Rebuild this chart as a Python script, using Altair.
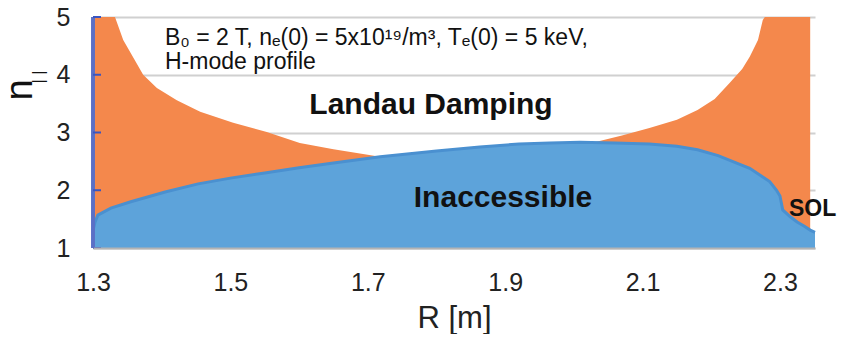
import altair as alt
import pandas as pd

# Landau damping boundary (orange region lies below this curve)
orange_R = [1.300, 1.332, 1.344, 1.358, 1.373, 1.393, 1.422, 1.456, 1.504, 1.553,
            1.601, 1.650, 1.718, 1.800, 1.900, 2.000, 2.033, 2.070, 2.110, 2.150,
            2.180, 2.205, 2.227, 2.245, 2.256, 2.268, 2.275, 2.278, 2.344]
orange_n = [5.00, 5.00, 4.60, 4.31, 4.00, 3.77, 3.56, 3.36, 3.17, 3.01,
            2.82, 2.71, 2.58, 2.48, 2.50, 2.70, 2.84, 2.95, 3.08, 3.22,
            3.39, 3.58, 3.86, 4.10, 4.31, 4.60, 4.95, 5.00, 5.00]

# Accessibility boundary (inaccessible region lies below this curve)
blue_R = [1.300, 1.303, 1.307, 1.326, 1.355, 1.405, 1.453, 1.500, 1.550, 1.600,
          1.650, 1.718, 1.800, 1.863, 1.920, 1.965, 2.009, 2.060, 2.110, 2.150,
          2.180, 2.210, 2.237, 2.256, 2.275, 2.285, 2.295, 2.300, 2.304, 2.315,
          2.325, 2.335, 2.344, 2.351]
blue_n = [1.30, 1.45, 1.57, 1.69, 1.80, 1.97, 2.11, 2.21, 2.30, 2.39,
          2.47, 2.58, 2.68, 2.75, 2.80, 2.82, 2.83, 2.82, 2.80, 2.76,
          2.70, 2.60, 2.47, 2.38, 2.23, 2.15, 2.00, 1.90, 1.66, 1.54,
          1.45, 1.38, 1.31, 1.27]

x_ticks = [1.3, 1.5, 1.7, 1.9, 2.1, 2.3]
y_ticks = [1, 2, 3, 4, 5]

W, H = 722, 231
FONT = "Liberation Sans"

orange_df = pd.DataFrame({"R": orange_R, "n": orange_n})
blue_df = pd.DataFrame({"R": blue_R, "n": blue_n})
ticks_df = pd.DataFrame({"n": y_ticks})

xscale = alt.Scale(domain=[1.3, 2.351], nice=False, zero=False)
yscale = alt.Scale(domain=[1, 5], nice=False, zero=False)

xaxis = alt.Axis(values=x_ticks, format=".1f", ticks=False, grid=False,
                 labelFontSize=25, labelFont=FONT, labelColor="#222222",
                 labelBaseline="alphabetic", labelPadding=42,
                 domainColor="#b4b4b4", domainWidth=2, zindex=1,
                 title="R [m]", titleFontSize=31, titleFont=FONT,
                 titleFontWeight="normal", titleColor="#222222",
                 titleBaseline="alphabetic", titleY=79, labelFlush=False)
yaxis = alt.Axis(values=y_ticks, format="d", ticks=False, domain=False,
                 grid=True, gridColor="#d0d0d0", gridWidth=2,
                 labelFontSize=25, labelFont=FONT, labelColor="#222222",
                 labelPadding=23, title=None, labelFlush=False)

orange = alt.Chart(orange_df).mark_area(color="#F4884C", opacity=1).encode(
    x=alt.X("R:Q", scale=xscale, axis=xaxis),
    y=alt.Y("n:Q", scale=yscale, axis=yaxis),
    y2=alt.datum(1),
)

blue = alt.Chart(blue_df).mark_area(
    color="#5DA3DA", opacity=1,
    line={"color": "#4A90D0", "strokeWidth": 3},
).encode(
    x=alt.X("R:Q", scale=xscale),
    y=alt.Y("n:Q", scale=yscale),
    y2=alt.datum(1),
)

left_line = alt.Chart(ticks_df).mark_rule(color="#5B70C6", strokeWidth=3).encode(
    x=alt.value(0), y=alt.value(0), y2=alt.value(H)
)

tick_marks = alt.Chart(ticks_df).mark_rule(color="#3A55C0", strokeWidth=2).encode(
    x=alt.value(0), x2=alt.value(8), y=alt.Y("n:Q", scale=yscale)
)

def label(text, x, y, size, weight="normal", align="left", angle=0,
          baseline="alphabetic", line_height=24):
    return alt.Chart(ticks_df.head(1)).mark_text(
        text=text, font=FONT, fontSize=size, fontWeight=weight, color="#111111",
        align=align, baseline=baseline, angle=angle, lineHeight=line_height,
    ).encode(x=alt.value(x), y=alt.value(y))

info = label(["B\u2080 = 2 T, n\u2091(0) = 5x10\u00b9\u2079/m\u00b3, T\u2091(0) = 5 keV,",
              "H-mode profile"], 72, 28, 23, line_height=24)
landau = label("Landau Damping", 338, 97, 30, "bold", "center")
inacc = label("Inaccessible", 410, 190, 30, "bold", "center")
sol = label("SOL", 696, 199, 23, "bold", "left")
ytitle_n = label("n", -61, 73, 38, "normal", "center", 270)
ytitle_sub = label("| |", -54, 60, 16, "normal", "center", 270, "middle")

chart = alt.layer(
    orange, blue, left_line, tick_marks, info, landau, inacc, sol, ytitle_n, ytitle_sub
).properties(
    width=W, height=H,
    autosize=alt.AutoSizeParams(type="none"),
    padding={"left": 85, "top": 9, "right": 24, "bottom": 86},
).configure_view(stroke=None)

chart.save("out.html", embed_options={"renderer": "svg", "actions": False})
